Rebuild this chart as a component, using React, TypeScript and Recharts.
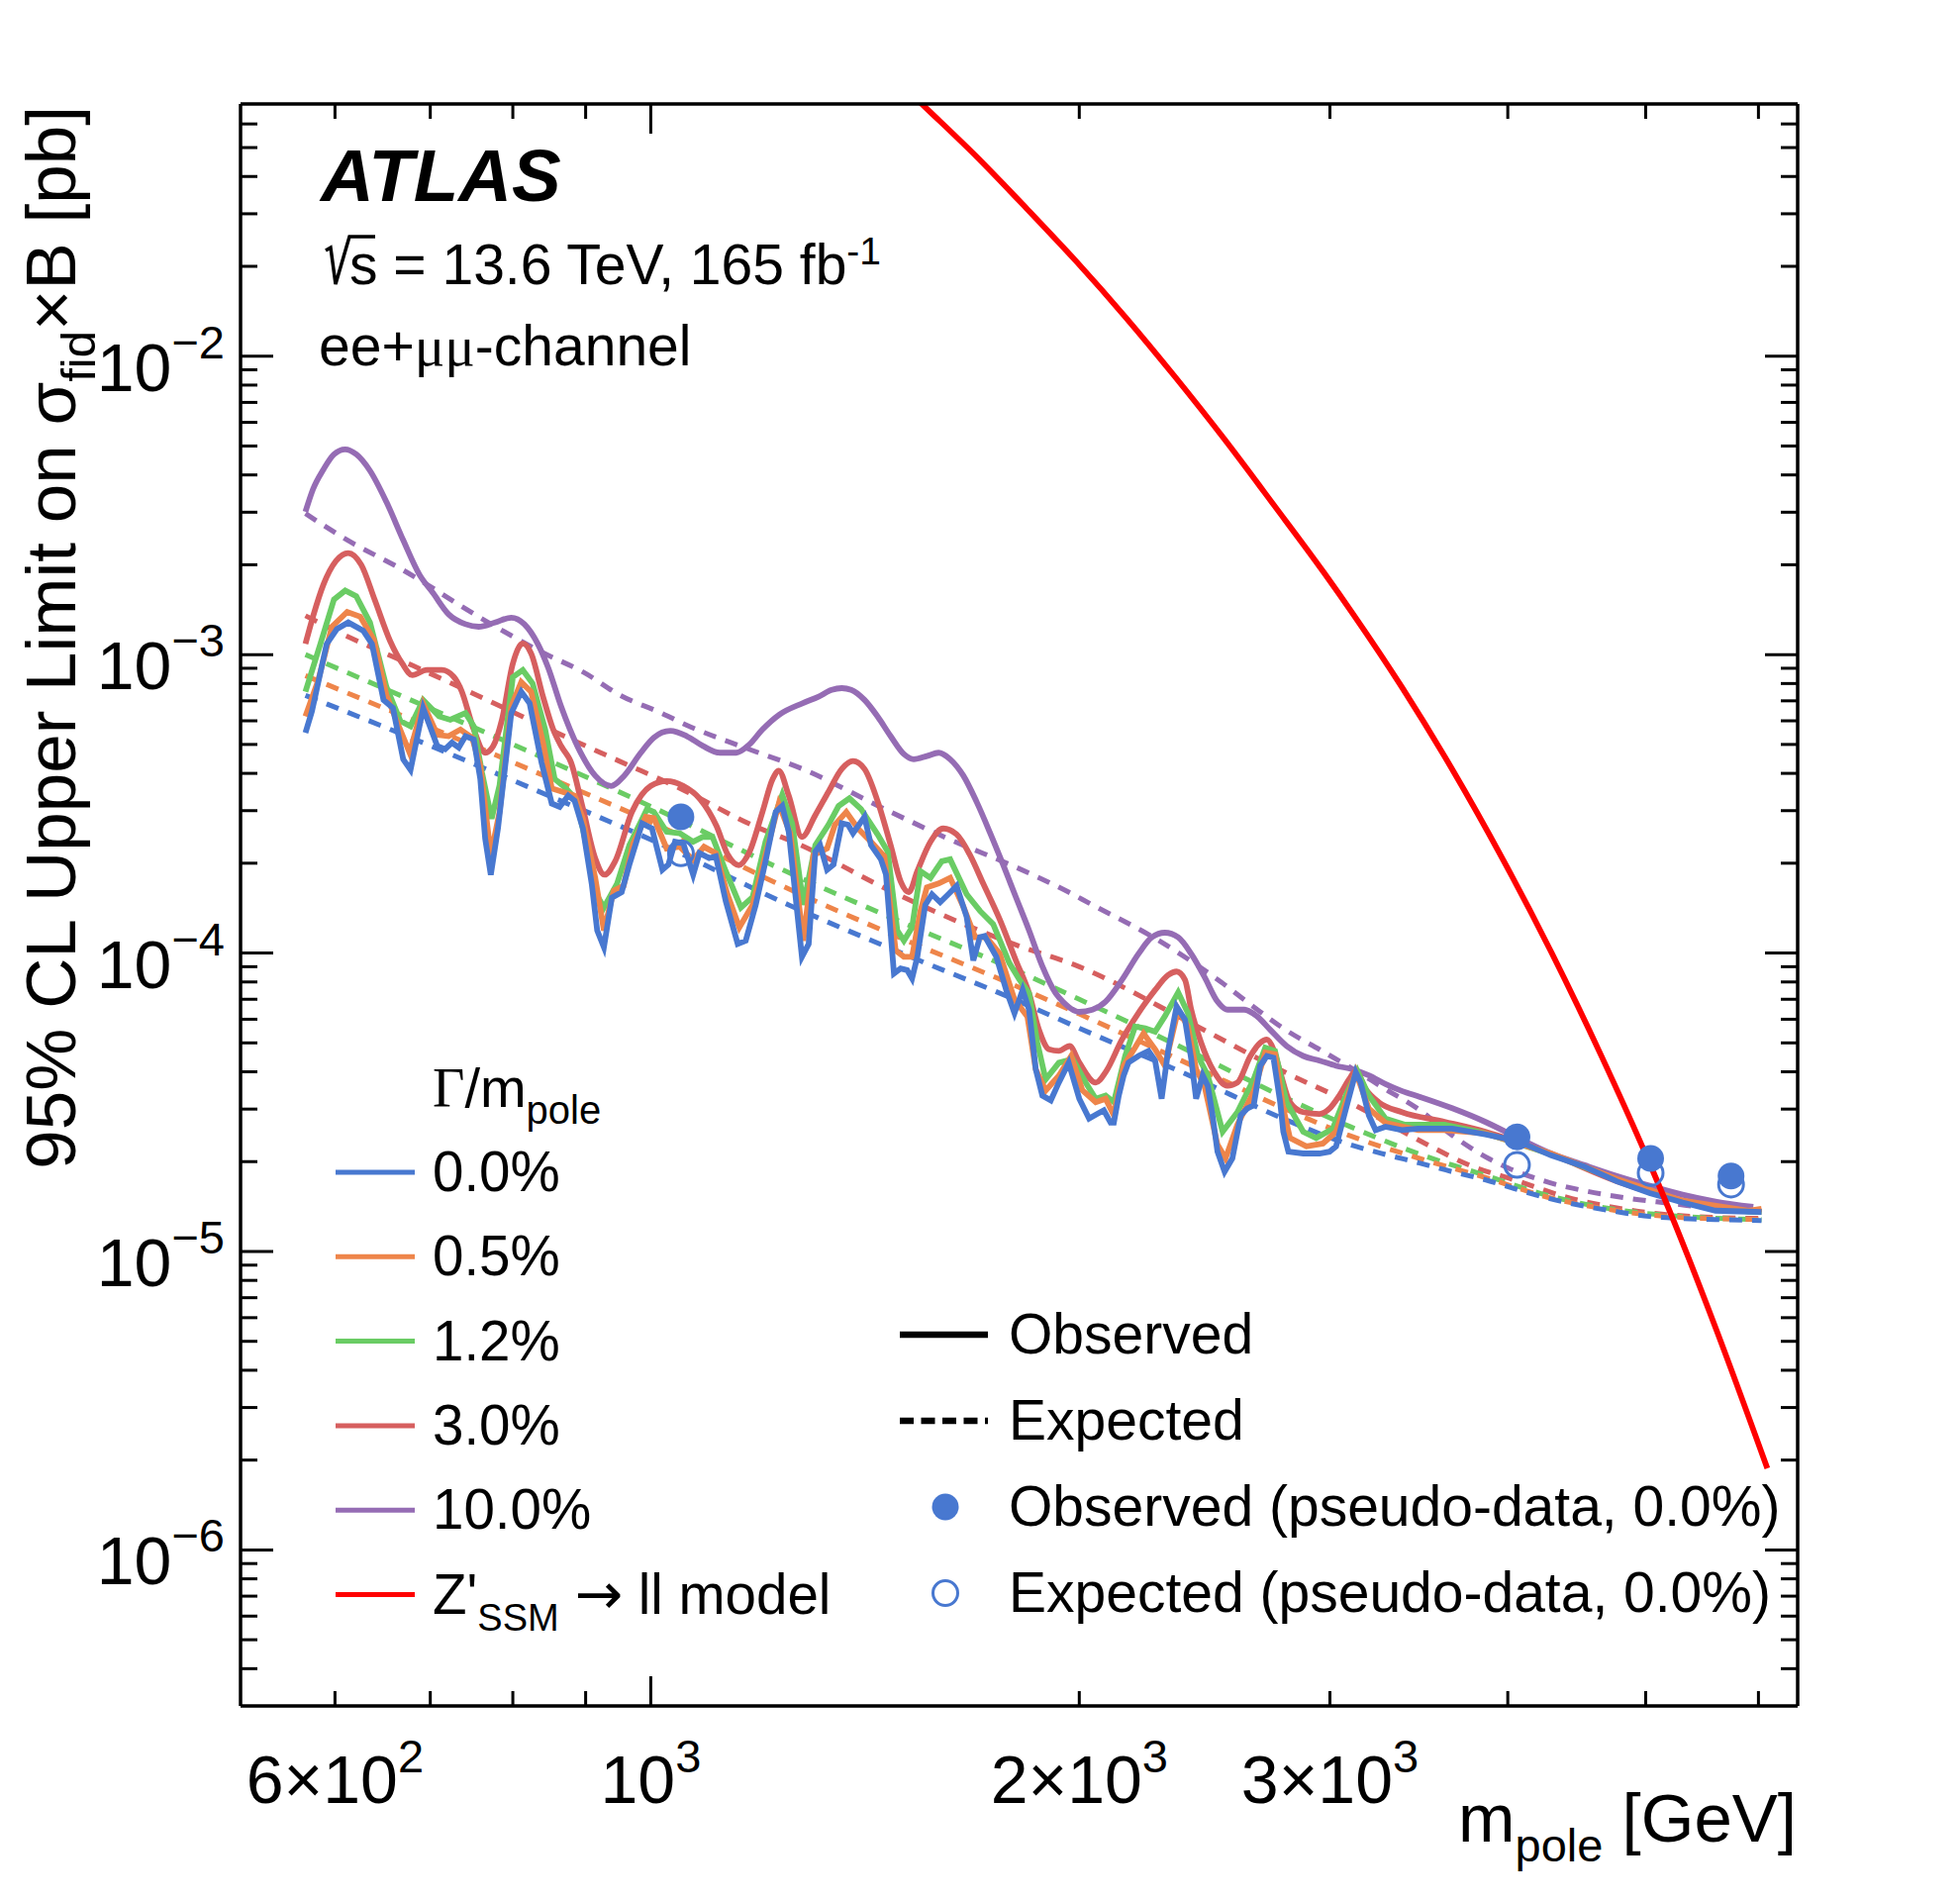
import React from 'react';
import { ComposedChart, Line, Scatter, XAxis, YAxis } from 'recharts';

const FONT = '"Liberation Sans", Arial, Helvetica, sans-serif';
const SERIF = '"Liberation Serif", "Times New Roman", serif';

const C_BLUE = '#4878d0';
const C_ORANGE = '#ee854a';
const C_GREEN = '#6acc64';
const C_RED = '#d65f5f';
const C_PURPLE = '#956cb4';
const C_ZSSM = '#ff0000';

// ---- Observed limits (mass [GeV], sigma x B [pb]) ----
const obs00: [number, number][] = [
  [572, 5.47e-4], [578, 6.45e-4], [592, 1.086e-3], [602, 1.22e-3], [613, 1.282e-3], [628, 1.203e-3],
  [637, 1.086e-3], [649, 7.05e-4], [659, 6.62e-4], [670, 4.46e-4], [678, 4.11e-4], [692, 6.62e-4],
  [708, 4.94e-4], [717, 4.82e-4], [725, 5.07e-4], [733, 4.88e-4], [741, 5.33e-4], [751, 5.2e-4],
  [759, 3.83e-4], [765, 2.42e-4], [772, 1.83e-4], [781, 2.615e-4], [798, 6.37e-4], [811, 7.51e-4],
  [822, 6.87e-4], [838, 4.35e-4], [852, 3.17e-4], [863, 3.09e-4], [875, 3.37e-4], [884, 3.24e-4],
  [896, 2.615e-4], [909, 1.7e-4], [917, 1.19e-4], [927, 1.046e-4], [939, 1.533e-4], [954, 1.6e-4],
  [966, 1.98e-4], [986, 2.72e-4], [1002, 2.615e-4], [1019, 1.9e-4], [1029, 1.98e-4], [1040, 2.36e-4],
  [1054, 2.33e-4], [1071, 1.83e-4], [1082, 2.16e-4], [1099, 2.08e-4], [1111, 2.11e-4], [1129, 1.49e-4],
  [1151, 1.073e-4], [1166, 1.1e-4], [1185, 1.45e-4], [1204, 2.03e-4], [1224, 2.97e-4], [1237, 3.11e-4],
  [1250, 2.55e-4], [1277, 9.71e-5], [1291, 1.073e-4], [1305, 2.19e-4], [1315, 2.3e-4], [1330, 1.9e-4],
  [1344, 1.98e-4], [1362, 2.72e-4], [1376, 2.69e-4], [1387, 2.52e-4], [1413, 2.86e-4], [1428, 2.3e-4],
  [1451, 2.06e-4], [1463, 1.83e-4], [1482, 8.54e-5], [1498, 8.87e-5], [1514, 8.76e-5], [1526, 8.21e-5],
  [1539, 9.71e-5], [1559, 1.45e-4], [1576, 1.573e-4], [1597, 1.48e-4], [1618, 1.573e-4], [1640, 1.68e-4],
  [1667, 1.32e-4], [1685, 9.45e-5], [1703, 1.13e-4], [1716, 1.14e-4], [1749, 9.71e-5], [1777, 7.52e-5],
  [1801, 6.29e-5], [1825, 7.52e-5], [1844, 6.45e-5], [1864, 4.08e-5], [1884, 3.33e-5], [1910, 3.21e-5],
  [1935, 3.68e-5], [1966, 4.29e-5], [2000, 3.25e-5], [2032, 2.79e-5], [2059, 2.89e-5], [2081, 2.97e-5],
  [2104, 2.7e-5], [2115, 2.7e-5], [2132, 3.33e-5], [2149, 3.89e-5], [2166, 4.3e-5], [2201, 4.52e-5],
  [2237, 4.7e-5], [2261, 4.36e-5], [2285, 3.25e-5], [2310, 4.76e-5], [2341, 6.62e-5], [2373, 5.98e-5],
  [2397, 4.42e-5], [2416, 3.25e-5], [2442, 3.89e-5], [2462, 3.59e-5], [2481, 2.86e-5], [2501, 2.16e-5],
  [2530, 1.85e-5], [2562, 2.05e-5], [2597, 2.86e-5], [2624, 3.01e-5], [2652, 3.09e-5], [2680, 4.19e-5],
  [2709, 4.52e-5], [2738, 4.46e-5], [2768, 3.165e-5], [2782, 2.52e-5], [2805, 2.16e-5], [2873, 2.13e-5],
  [2950, 2.13e-5], [2998, 2.16e-5], [3030, 2.25e-5], [3070, 2.86e-5], [3128, 3.99e-5], [3153, 3.68e-5],
  [3195, 2.86e-5], [3230, 2.55e-5], [3282, 2.62e-5], [3370, 2.55e-5], [3461, 2.58e-5], [3611, 2.58e-5],
  [3656, 2.58e-5], [3856, 2.47e-5], [4067, 2.34e-5], [4289, 2.1e-5], [4523, 1.93e-5], [4771, 1.718e-5],
  [5032, 1.57e-5], [5307, 1.46e-5], [5597, 1.37e-5], [5903, 1.36e-5], [6030, 1.355e-5],
];

const obs05: [number, number][] = [
  [572, 6.21e-4], [584, 8.21e-4], [597, 1.24e-3], [612, 1.39e-3], [625, 1.34e-3], [639, 1.12e-3],
  [652, 7.32e-4], [663, 5.99e-4], [677, 4.69e-4], [692, 6.85e-4], [708, 5.39e-4], [721, 5.33e-4],
  [735, 5.61e-4], [749, 5.27e-4], [759, 4.24e-4], [772, 2.13e-4], [783, 2.97e-4], [798, 6.7e-4],
  [811, 8.09e-4], [824, 7.51e-4], [840, 5.07e-4], [852, 3.56e-4], [867, 3.47e-4], [884, 3.37e-4],
  [896, 2.82e-4], [914, 1.786e-4], [927, 1.19e-4], [942, 1.62e-4], [957, 1.68e-4], [972, 2.33e-4],
  [992, 2.86e-4], [1005, 2.83e-4], [1026, 2.24e-4], [1048, 2.27e-4], [1071, 2.05e-4], [1090, 2.27e-4],
  [1111, 2.16e-4], [1132, 1.573e-4], [1154, 1.219e-4], [1179, 1.45e-4], [1204, 2.13e-4], [1230, 3.16e-4],
  [1253, 2.52e-4], [1280, 1.1e-4], [1301, 2.13e-4], [1330, 2.24e-4], [1347, 2.69e-4], [1372, 2.97e-4],
  [1398, 2.615e-4], [1428, 2.36e-4], [1459, 2.11e-4], [1486, 1.02e-4], [1506, 9.71e-5], [1526, 9.71e-5],
  [1547, 1.385e-4], [1563, 1.66e-4], [1593, 1.71e-4], [1623, 1.786e-4], [1658, 1.43e-4], [1690, 1.13e-4],
  [1721, 1.13e-4], [1758, 9.98e-5], [1801, 6.98e-5], [1839, 6.13e-5], [1864, 4.08e-5], [1894, 3.46e-5],
  [1935, 3.88e-5], [1974, 4.52e-5], [2010, 3.47e-5], [2054, 3.165e-5], [2087, 3.25e-5], [2115, 2.86e-5],
  [2149, 4.19e-5], [2189, 4.82e-5], [2219, 5.38e-5], [2261, 4.76e-5], [2297, 4.19e-5], [2347, 6.46e-5],
  [2384, 5.67e-5], [2416, 4.08e-5], [2449, 3.59e-5], [2501, 2.28e-5], [2534, 2.05e-5], [2583, 2.66e-5],
  [2652, 3.43e-5], [2702, 4.64e-5], [2745, 4.58e-5], [2782, 3.01e-5], [2812, 2.4e-5], [2888, 2.25e-5],
  [2966, 2.3e-5], [3030, 2.52e-5], [3078, 3.165e-5], [3128, 3.99e-5], [3195, 3.01e-5], [3282, 2.7e-5],
  [3461, 2.55e-5], [3611, 2.55e-5], [3856, 2.49e-5], [4289, 2.13e-5], [4771, 1.75e-5], [5307, 1.48e-5],
  [5903, 1.37e-5], [6030, 1.39e-5],
];

const obs12: [number, number][] = [
  [572, 7.51e-4], [586, 1.086e-3], [599, 1.53e-3], [610, 1.64e-3], [621, 1.57e-3], [635, 1.28e-3],
  [652, 7.8e-4], [667, 5.99e-4], [678, 5.75e-4], [692, 7.05e-4], [710, 6.21e-4], [723, 6.05e-4],
  [741, 6.37e-4], [751, 5.75e-4], [761, 4.03e-4], [773, 2.82e-4], [783, 3.65e-4], [800, 8.4e-4],
  [813, 8.88e-4], [826, 8.0e-4], [843, 5.61e-4], [856, 3.83e-4], [872, 3.56e-4], [886, 3.28e-4],
  [898, 2.49e-4], [914, 1.6e-4], [927, 1.42e-4], [947, 1.71e-4], [966, 2.3e-4], [994, 3.04e-4],
  [1005, 2.97e-4], [1026, 2.55e-4], [1048, 2.52e-4], [1071, 2.36e-4], [1088, 2.45e-4], [1105, 2.45e-4],
  [1129, 1.88e-4], [1157, 1.42e-4], [1179, 1.54e-4], [1204, 2.36e-4], [1237, 3.39e-4], [1257, 2.72e-4],
  [1280, 1.45e-4], [1305, 2.3e-4], [1333, 2.69e-4], [1355, 3.11e-4], [1379, 3.3e-4], [1405, 3.04e-4],
  [1443, 2.5e-4], [1467, 2.19e-4], [1490, 1.19e-4], [1506, 1.1e-4], [1526, 1.219e-4], [1547, 1.88e-4],
  [1572, 1.786e-4], [1601, 2.03e-4], [1623, 2.06e-4], [1667, 1.573e-4], [1703, 1.385e-4], [1740, 1.25e-4],
  [1786, 9.26e-5], [1815, 8.16e-5], [1844, 7.33e-5], [1869, 5.0e-5], [1894, 3.77e-5], [1935, 4.29e-5],
  [1979, 4.41e-5], [2021, 3.68e-5], [2054, 3.25e-5], [2087, 3.33e-5], [2115, 3.165e-5], [2154, 4.52e-5],
  [2189, 5.67e-5], [2225, 5.6e-5], [2261, 5.45e-5], [2297, 6.14e-5], [2347, 7.38e-5], [2384, 6.3e-5],
  [2423, 4.52e-5], [2462, 3.89e-5], [2522, 2.52e-5], [2583, 2.93e-5], [2652, 3.78e-5], [2702, 4.82e-5],
  [2745, 4.7e-5], [2797, 3.165e-5], [2873, 2.52e-5], [2934, 2.4e-5], [3014, 2.58e-5], [3078, 3.33e-5],
  [3136, 4.03e-5], [3195, 3.33e-5], [3282, 2.79e-5], [3388, 2.66e-5], [3611, 2.66e-5], [3856, 2.49e-5],
  [4289, 2.12e-5], [4771, 1.74e-5], [5307, 1.47e-5], [5903, 1.36e-5], [6030, 1.355e-5],
];

const obs30: [number, number][] = [
  [572, 1.086e-3], [579, 1.34e-3], [589, 1.72e-3], [601, 2.06e-3], [613, 2.19e-3], [626, 2.0e-3],
  [640, 1.52e-3], [656, 1.11e-3], [669, 9.33e-4], [680, 8.53e-4], [696, 8.88e-4], [713, 8.88e-4],
  [727, 8.43e-4], [736, 7.6e-4], [751, 5.61e-4], [765, 4.69e-4], [775, 4.94e-4], [786, 6.05e-4],
  [800, 9.33e-4], [813, 1.09e-3], [824, 1.01e-3], [840, 7.23e-4], [854, 5.61e-4], [865, 4.94e-4],
  [879, 4.35e-4], [896, 3.05e-4], [914, 2.08e-4], [928, 1.83e-4], [944, 2.03e-4], [970, 2.97e-4],
  [1000, 3.63e-4], [1026, 3.77e-4], [1054, 3.63e-4], [1083, 3.28e-4], [1112, 2.67e-4], [1133, 2.13e-4],
  [1153, 1.97e-4], [1173, 2.18e-4], [1198, 2.97e-4], [1218, 3.83e-4], [1230, 4.08e-4], [1250, 3.37e-4],
  [1277, 2.45e-4], [1305, 2.9e-4], [1333, 3.47e-4], [1362, 4.14e-4], [1387, 4.4e-4], [1413, 4.14e-4],
  [1447, 3.11e-4], [1474, 2.3e-4], [1498, 1.74e-4], [1518, 1.6e-4], [1539, 1.88e-4], [1572, 2.36e-4],
  [1605, 2.615e-4], [1640, 2.5e-4], [1676, 2.13e-4], [1712, 1.71e-4], [1758, 1.3e-4], [1805, 9.45e-5],
  [1844, 7.33e-5], [1874, 5.52e-5], [1904, 4.76e-5], [1935, 4.7e-5], [1969, 4.88e-5], [2000, 4.3e-5],
  [2054, 3.68e-5], [2087, 3.99e-5], [2143, 5.13e-5], [2201, 6.3e-5], [2261, 7.52e-5], [2310, 8.45e-5],
  [2341, 8.67e-5], [2373, 8.13e-5], [2397, 6.46e-5], [2436, 5.0e-5], [2488, 3.99e-5], [2542, 3.59e-5],
  [2583, 3.68e-5], [2638, 4.52e-5], [2680, 5.0e-5], [2709, 5.13e-5], [2738, 4.76e-5], [2768, 3.99e-5],
  [2812, 3.165e-5], [2873, 2.93e-5], [2950, 2.89e-5], [2998, 3.01e-5], [3046, 3.33e-5], [3095, 3.78e-5],
  [3128, 4.03e-5], [3178, 3.5e-5], [3246, 3.165e-5], [3370, 2.93e-5], [3611, 2.72e-5], [3856, 2.52e-5],
  [4289, 2.12e-5], [4771, 1.72e-5], [5307, 1.48e-5], [5903, 1.37e-5], [6030, 1.36e-5],
];

const obs100: [number, number][] = [
  [572, 3.01e-3], [579, 3.58e-3], [589, 4.18e-3], [599, 4.69e-3], [610, 4.875e-3], [621, 4.69e-3],
  [635, 4.13e-3], [652, 3.25e-3], [670, 2.42e-3], [688, 1.85e-3], [703, 1.61e-3], [721, 1.366e-3],
  [741, 1.265e-3], [757, 1.24e-3], [777, 1.28e-3], [798, 1.33e-3], [815, 1.265e-3], [833, 1.086e-3],
  [847, 9.05e-4], [865, 6.7e-4], [888, 4.94e-4], [914, 3.93e-4], [938, 3.63e-4], [958, 3.93e-4],
  [984, 4.69e-4], [1005, 5.27e-4], [1032, 5.55e-4], [1060, 5.33e-4], [1088, 4.94e-4], [1118, 4.69e-4],
  [1148, 4.69e-4], [1173, 5.0e-4], [1198, 5.61e-4], [1231, 6.29e-4], [1278, 6.87e-4], [1312, 7.23e-4],
  [1340, 7.62e-4], [1362, 7.72e-4], [1383, 7.62e-4], [1413, 7.05e-4], [1443, 6.21e-4], [1474, 5.33e-4],
  [1506, 4.64e-4], [1530, 4.46e-4], [1563, 4.57e-4], [1593, 4.69e-4], [1623, 4.46e-4], [1658, 3.93e-4],
  [1694, 3.21e-4], [1730, 2.55e-4], [1768, 1.98e-4], [1805, 1.54e-4], [1844, 1.19e-4], [1884, 9.03e-5],
  [1925, 7.33e-5], [1947, 6.88e-5], [2000, 6.35e-5], [2043, 6.46e-5], [2087, 6.88e-5], [2143, 8.13e-5],
  [2201, 9.94e-5], [2249, 1.129e-4], [2297, 1.17e-4], [2347, 1.129e-4], [2397, 9.94e-5], [2449, 8.32e-5],
  [2501, 6.88e-5], [2542, 6.46e-5], [2611, 6.46e-5], [2666, 6.14e-5], [2724, 5.53e-5], [2797, 4.88e-5],
  [2873, 4.52e-5], [2950, 4.36e-5], [3030, 4.19e-5], [3111, 4.08e-5], [3195, 3.89e-5], [3282, 3.64e-5],
  [3370, 3.45e-5], [3467, 3.3e-5], [3656, 3.02e-5], [3856, 2.72e-5], [4067, 2.4e-5], [4289, 2.13e-5],
  [4523, 1.95e-5], [4771, 1.79e-5], [5032, 1.66e-5], [5307, 1.55e-5], [5597, 1.47e-5], [5950, 1.41e-5],
];

// ---- Expected limits ----
const exp00: [number, number][] = [
  [572, 7.3e-4], [700, 4.95e-4], [850, 3.35e-4], [1000, 2.4e-4], [1250, 1.45e-4], [1500, 1.0e-4],
  [1800, 7.0e-5], [2000, 5.6e-5], [2400, 3.85e-5], [2800, 2.75e-5], [3100, 2.28e-5], [3287, 2.11e-5],
  [3467, 1.98e-5], [3656, 1.85e-5], [3856, 1.74e-5], [4067, 1.61e-5], [4289, 1.5e-5], [4523, 1.42e-5],
  [4771, 1.36e-5], [5032, 1.31e-5], [5307, 1.29e-5], [5597, 1.28e-5], [6030, 1.27e-5],
];
const exp05: [number, number][] = [
  [572, 8.5e-4], [700, 5.7e-4], [850, 3.85e-4], [1000, 2.75e-4], [1250, 1.64e-4], [1500, 1.12e-4],
  [1800, 7.8e-5], [2000, 6.25e-5], [2400, 4.2e-5], [2800, 2.98e-5], [3100, 2.44e-5], [3467, 2.05e-5],
  [3856, 1.77e-5], [4289, 1.51e-5], [4771, 1.37e-5], [5307, 1.3e-5], [6030, 1.28e-5],
];
const exp12: [number, number][] = [
  [572, 1.0e-3], [700, 6.6e-4], [850, 4.4e-4], [1000, 3.1e-4], [1250, 1.86e-4], [1500, 1.27e-4],
  [1800, 8.8e-5], [2000, 7.0e-5], [2400, 4.65e-5], [2800, 3.25e-5], [3100, 2.62e-5], [3467, 2.12e-5],
  [3856, 1.8e-5], [4289, 1.53e-5], [4771, 1.38e-5], [5307, 1.31e-5], [6030, 1.28e-5],
];
const exp30: [number, number][] = [
  [572, 1.35e-3], [610, 1.16e-3], [680, 9.2e-4], [765, 7.1e-4], [850, 5.6e-4], [950, 4.4e-4],
  [1050, 3.55e-4], [1175, 2.7e-4], [1280, 2.28e-4], [1460, 1.65e-4], [1800, 1.07e-4], [2000, 9.0e-5],
  [2400, 5.8e-5], [2800, 3.95e-5], [3100, 3.15e-5], [3500, 2.3e-5], [3755, 1.95e-5], [4070, 1.72e-5],
  [4400, 1.52e-5], [4770, 1.4e-5], [5170, 1.33e-5], [5600, 1.3e-5], [6030, 1.29e-5],
];
const exp100: [number, number][] = [
  [572, 2.97e-3], [612, 2.42e-3], [666, 1.95e-3], [765, 1.3e-3], [838, 1.02e-3], [898, 8.7e-4],
  [952, 7.3e-4], [1015, 6.4e-4], [1060, 5.8e-4], [1175, 4.8e-4], [1278, 4.14e-4], [1459, 3.04e-4],
  [1623, 2.4e-4], [1805, 1.94e-4], [1966, 1.6e-4], [2032, 1.47e-4], [2261, 1.12e-4], [2515, 8.0e-5],
  [2652, 6.6e-5], [2797, 5.5e-5], [2950, 4.75e-5], [3111, 4.1e-5], [3282, 3.5e-5], [3461, 3.0e-5],
  [3656, 2.45e-5], [3877, 2.05e-5], [4245, 1.72e-5], [4552, 1.59e-5], [4850, 1.51e-5], [5200, 1.45e-5],
  [5597, 1.39e-5], [6030, 1.36e-5],
];

// ---- Z'_SSM -> ll model cross-section ----
const zssm: [number, number][] = [
  [1441, 0.098], [1548, 0.0705], [1696, 0.04635], [1837, 0.03123], [1990, 0.02079], [2156, 0.01349],
  [2335, 8.53e-3], [2530, 5.26e-3], [2741, 3.164e-3], [2970, 1.887e-3], [3115, 1.366e-3], [3375, 7.7e-4],
  [3657, 4.12e-4], [3962, 2.09e-4], [4293, 1.004e-4], [4650, 4.56e-5], [5010, 2.07e-5], [5229, 1.274e-5],
  [5604, 5.48e-6], [6087, 1.877e-6],
];

// ---- pseudo-data points (0.0%) ----
const pseudoObs: [number, number][] = [[1050, 2.86e-4], [4060, 2.42e-5], [5040, 2.05e-5], [5740, 1.79e-5]];
const pseudoExp: [number, number][] = [[1050, 2.16e-4], [4060, 1.95e-5], [5040, 1.83e-5], [5740, 1.675e-5]];

// ---- axes ----
const xDomain: [number, number] = [515, 6393];
const yDomain: [number, number] = [3e-7, 0.07];
const xTicks = [600, 700, 800, 900, 1000, 2000, 3000, 4000, 5000, 6000];
const xMajorTicks = [1000];
const xTickBase: Record<number, string> = { 600: '6×10', 1000: '10', 2000: '2×10', 3000: '3×10' };
const xTickExp: Record<number, string> = { 600: '2', 1000: '3', 2000: '3', 3000: '3' };
const yDecades = [-7, -6, -5, -4, -3, -2];
const yMultipliers = [1, 2, 3, 4, 5, 6, 7, 8, 9];
const yLabelExp: Record<number, string> = { [-6]: '−6', [-5]: '−5', [-4]: '−4', [-3]: '−3', [-2]: '−2' };

const yTicks: number[] = [];
yDecades.forEach((e) =>
  yMultipliers.forEach((k) => {
    const v = Number((k * Math.pow(10, e)).toPrecision(6));
    if (v > yDomain[0] * 1.01 && v < yDomain[1] * 0.99) yTicks.push(v);
  })
);

const toPts = (a: [number, number][]) => a.map(([m, s]) => ({ m, s }));

const leftLegend = [
  { label: '0.0%', color: C_BLUE },
  { label: '0.5%', color: C_ORANGE },
  { label: '1.2%', color: C_GREEN },
  { label: '3.0%', color: C_RED },
  { label: '10.0%', color: C_PURPLE },
];

function XTick(props: any) {
  const { x, y, payload, side } = props;
  const v = payload.value;
  const len = xMajorTicks.includes(v) ? 30 : 15;
  const dir = side === 'bottom' ? -1 : 1;
  return (
    <g>
      <line x1={x} x2={x} y1={y} y2={y + dir * len} stroke="#000" strokeWidth={3} />
      {side === 'bottom' && xTickBase[v] && (
        <text x={x} y={y + 98} textAnchor="middle" fontFamily={FONT} fontSize={68} fill="#000">
          {xTickBase[v]}
          <tspan dy={-31} fontSize={47}>{xTickExp[v]}</tspan>
        </text>
      )}
    </g>
  );
}

function YTick(props: any) {
  const { x, y, payload, side } = props;
  const v = payload.value;
  const e = Math.log10(v);
  const re = Math.round(e);
  const major = Math.abs(e - re) < 1e-6;
  const len = major ? 33 : 17;
  const dir = side === 'left' ? 1 : -1;
  return (
    <g>
      <line x1={x} x2={x + dir * len} y1={y} y2={y} stroke="#000" strokeWidth={3} />
      {side === 'left' && major && (
        <text x={x - 16} y={y + 35} textAnchor="end" fontFamily={FONT} fontSize={68} fill="#000">
          10
          <tspan dy={-33} fontSize={47}>{yLabelExp[re]}</tspan>
        </text>
      )}
    </g>
  );
}

const FilledDot = (p: any) => <circle cx={p.cx} cy={p.cy} r={13.5} fill={C_BLUE} />;
const OpenDot = (p: any) => <circle cx={p.cx} cy={p.cy} r={12.5} fill="none" stroke={C_BLUE} strokeWidth={3} />;

const DASH = '13 10';

export default function App() {
  const axisLine = { stroke: '#000', strokeWidth: 3.5 };
  const solid = (data: [number, number][], color: string, type: any) => (
    <Line
      xAxisId="b"
      yAxisId="l"
      data={toPts(data)}
      dataKey="s"
      type={type}
      stroke={color}
      strokeWidth={5.8}
      dot={false}
      activeDot={false}
      isAnimationActive={false}
    />
  );
  const dashed = (data: [number, number][], color: string) => (
    <Line
      xAxisId="b"
      yAxisId="l"
      data={toPts(data)}
      dataKey="s"
      type="monotoneX"
      stroke={color}
      strokeWidth={5}
      strokeDasharray={DASH}
      dot={false}
      activeDot={false}
      isAnimationActive={false}
    />
  );

  return (
    <div style={{ position: 'absolute', left: 0, top: 0, width: 1980, height: 1921, background: '#fff' }}>
      <ComposedChart width={1980} height={1921} margin={{ top: 104, right: 163, bottom: 197, left: 242 }}>
        <XAxis
          xAxisId="b"
          dataKey="m"
          type="number"
          scale="log"
          domain={xDomain}
          allowDataOverflow
          ticks={xTicks}
          interval={0}
          orientation="bottom"
          height={1}
          tickSize={0}
          tickMargin={0}
          tickLine={false}
          axisLine={axisLine}
          tick={(p: any) => <XTick {...p} side="bottom" />}
        />
        <XAxis
          xAxisId="t"
          dataKey="m"
          type="number"
          scale="log"
          domain={xDomain}
          allowDataOverflow
          ticks={xTicks}
          interval={0}
          orientation="top"
          height={1}
          tickSize={0}
          tickMargin={0}
          tickLine={false}
          axisLine={axisLine}
          tick={(p: any) => <XTick {...p} side="top" />}
        />
        <YAxis
          yAxisId="l"
          dataKey="s"
          type="number"
          scale="log"
          domain={yDomain}
          allowDataOverflow
          ticks={yTicks}
          interval={0}
          orientation="left"
          width={1}
          tickSize={0}
          tickMargin={0}
          tickLine={false}
          axisLine={axisLine}
          tick={(p: any) => <YTick {...p} side="left" />}
        />
        <YAxis
          yAxisId="r"
          dataKey="s"
          type="number"
          scale="log"
          domain={yDomain}
          allowDataOverflow
          ticks={yTicks}
          interval={0}
          orientation="right"
          width={1}
          tickSize={0}
          tickMargin={0}
          tickLine={false}
          axisLine={axisLine}
          tick={(p: any) => <YTick {...p} side="right" />}
        />

        {dashed(exp100, C_PURPLE)}
        {dashed(exp30, C_RED)}
        {dashed(exp12, C_GREEN)}
        {dashed(exp05, C_ORANGE)}
        {dashed(exp00, C_BLUE)}

        {solid(obs100, C_PURPLE, 'monotoneX')}
        {solid(obs30, C_RED, 'monotoneX')}
        {solid(obs12, C_GREEN, 'linear')}
        {solid(obs05, C_ORANGE, 'linear')}
        {solid(obs00, C_BLUE, 'linear')}

        <Scatter xAxisId="b" yAxisId="l" data={toPts(pseudoExp)} dataKey="s" shape={OpenDot} isAnimationActive={false} />
        <Scatter xAxisId="b" yAxisId="l" data={toPts(pseudoObs)} dataKey="s" shape={FilledDot} isAnimationActive={false} />

        {solid(zssm, C_ZSSM, 'monotoneX')}
      </ComposedChart>

      <svg
        width={1980}
        height={1921}
        style={{ position: 'absolute', left: 0, top: 0, pointerEvents: 'none' }}
        fontFamily={FONT}
      >
        {/* ATLAS label */}
        <text x={324} y={203} fontSize={74.5} fontWeight="bold" fontStyle="italic" fill="#000">
          ATLAS
        </text>
        <path d="M 329 253 L 334 250 L 339 287 L 353 239 L 379 239" fill="none" stroke="#000" strokeWidth={3.5} />
        <text x={353} y={287} fontSize={57} fill="#000" style={{ whiteSpace: 'pre' }}>
          s = 13.6 TeV, 165 fb
          <tspan dy={-20} fontSize={39}>-1</tspan>
        </text>
        <text x={322} y={369} fontSize={57} fill="#000">
          ee+<tspan fontFamily={SERIF}>μμ</tspan>-channel
        </text>

        {/* Y axis title */}
        <text
          transform="translate(76,107) rotate(-90)"
          textAnchor="end"
          fontSize={71}
          fill="#000"
          style={{ whiteSpace: 'pre' }}
        >
          95% CL Upper Limit on σ<tspan dy={20} fontSize={49}>fid</tspan>
          <tspan dy={-20}>×B [pb]</tspan>
        </text>

        {/* X axis title */}
        <text x={1815} y={1860} textAnchor="end" fontSize={69} fill="#000" style={{ whiteSpace: 'pre' }}>
          m<tspan dy={20} fontSize={47}>pole</tspan>
          <tspan dy={-20}> [GeV]</tspan>
        </text>

        {/* Left legend */}
        <text x={437} y={1118} fontSize={56} fill="#000">
          <tspan fontFamily={SERIF}>Γ</tspan>/m<tspan dy={17} fontSize={40}>pole</tspan>
        </text>
        {leftLegend.map((r, i) => {
          const yy = 1184 + i * 85.3;
          return (
            <g key={r.label}>
              <line x1={339} x2={419} y1={yy} y2={yy} stroke={r.color} strokeWidth={5} />
              <text x={437} y={yy + 19} fontSize={56.5} fill="#000">
                {r.label}
              </text>
            </g>
          );
        })}
        <line x1={339} x2={419} y1={1610.5} y2={1610.5} stroke={C_ZSSM} strokeWidth={5} />
        <text x={437} y={1630} fontSize={56.5} fill="#000" style={{ whiteSpace: 'pre' }}>
          Z'<tspan dy={17} fontSize={38}>SSM</tspan>
          <tspan dy={-17}> </tspan>
          <tspan fontFamily='"DejaVu Sans", sans-serif' fontSize={58}>→</tspan>
          <tspan> ll model</tspan>
        </text>

        {/* Right legend */}
        <line x1={909} x2={998} y1={1348} y2={1348} stroke="#000" strokeWidth={6.5} />
        <text x={1019} y={1367} fontSize={57} fill="#000">Observed</text>
        <line x1={909} x2={998} y1={1435} y2={1435} stroke="#000" strokeWidth={6.5} strokeDasharray="14 7.5" />
        <text x={1019} y={1454} fontSize={57} fill="#000">Expected</text>
        <circle cx={955} cy={1522} r={13.5} fill={C_BLUE} />
        <text x={1019} y={1541} fontSize={57} fill="#000">Observed (pseudo-data, 0.0%)</text>
        <circle cx={955} cy={1609} r={12.5} fill="none" stroke={C_BLUE} strokeWidth={3} />
        <text x={1019} y={1628} fontSize={57} fill="#000">Expected (pseudo-data, 0.0%)</text>
      </svg>
    </div>
  );
}
